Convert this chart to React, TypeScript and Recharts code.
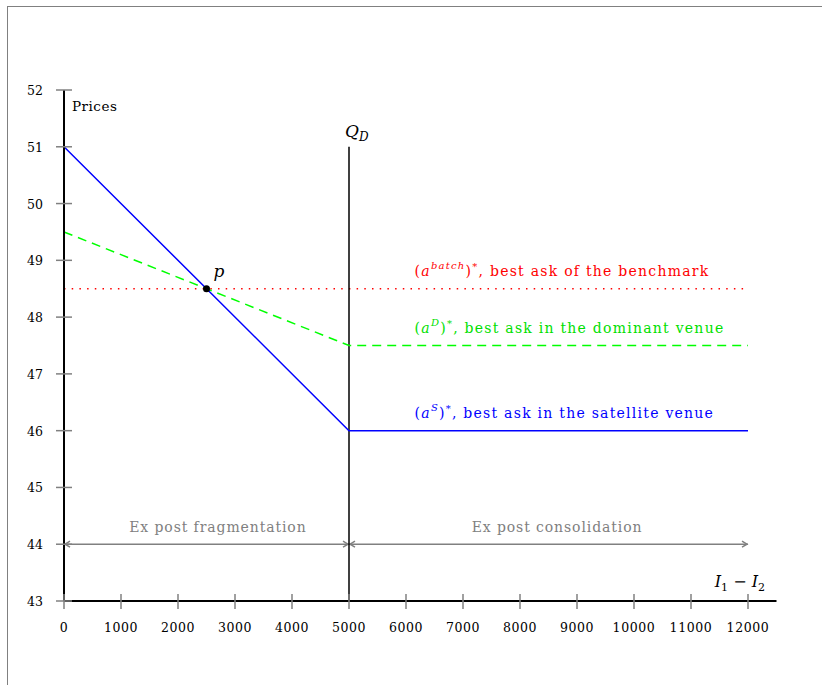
import { LineChart, Line, XAxis, YAxis, ReferenceLine, ReferenceDot } from "recharts"

// inventory imbalance I1 - I2 and best asks
const inventoryGap = [0, 5000, 12000]
const satelliteAsk = [51, 46, 46]
const dominantAsk = [49.5, 47.5, 47.5]
const benchmarkAsk = 48.5
const thresholdQD = 5000
const crossing = { x: 2500, y: 48.5 }
const xTicks = [0, 1000, 2000, 3000, 4000, 5000, 6000, 7000, 8000, 9000, 10000, 11000, 12000]
const yTicks = [43, 44, 45, 46, 47, 48, 49, 50, 51, 52]

const data = inventoryGap.map((x, i) => ({ x, satellite: satelliteAsk[i], dominant: dominantAsk[i] }))

const SERIF = "'DejaVu Serif', serif"
const GRAY = "#808080"

function YTick(props: any) {
    const { x, y, payload } = props
    const ax = x + 21
    return (
        <g>
            <line x1={ax - 8} x2={ax + 8} y1={y} y2={y} stroke={GRAY} strokeWidth={1.5} />
            <text x={x} y={y + 5} textAnchor="end" style={{ fontFamily: SERIF, fontSize: 12.5 }} fill="#000">
                {payload.value}
            </text>
        </g>
    )
}

function XTick(props: any) {
    const { x, y, payload } = props
    const ay = y - 31
    return (
        <g>
            <line x1={x} x2={x} y1={ay - 7} y2={ay + 8} stroke={GRAY} strokeWidth={1.5} />
            <text x={x} y={y} textAnchor="middle" style={{ fontFamily: SERIF, fontSize: 12.5, letterSpacing: 0.6 }} fill="#000">
                {payload.value}
            </text>
        </g>
    )
}

function Arrow(props: any) {
    const { x1, y1, x2, y2 } = props
    return (
        <g stroke={GRAY} strokeWidth={1.5} fill="none">
            <line x1={x1} y1={y1} x2={x2} y2={y2} />
            <path d={`M${x1 + 6},${y1 - 3} L${x1 + 1},${y1} L${x1 + 6},${y1 + 3}`} />
            <path d={`M${x2 - 6},${y2 - 3} L${x2 - 1},${y2} L${x2 - 6},${y2 + 3}`} />
        </g>
    )
}

const textStyle = { fontFamily: SERIF, fontSize: 14, letterSpacing: 0.9 }

function AskLabel({ cx, cy, color, sup, rest }: any) {
    return (
        <text x={cx} y={cy - 13} fill={color} style={{ ...textStyle, letterSpacing: 1.25 }}>
            (<tspan fontStyle="italic">a</tspan>
            <tspan dy={-7} fontSize={10} fontStyle="italic">{sup}</tspan>
            <tspan dy={7}>)</tspan>
            <tspan dy={-6} fontSize={10}>*</tspan>
            <tspan dy={6}>{", best ask " + rest}</tspan>
        </text>
    )
}

export default function App() {
    return (
        <div style={{ position: "absolute", left: 0, top: 0, width: 822, height: 685, background: "#fff", fontFamily: SERIF }}>
            <div style={{ position: "absolute", left: 7, top: 6, right: 0, bottom: 0, borderLeft: `1.5px solid ${GRAY}`, borderTop: `1.5px solid ${GRAY}` }} />
            <div style={{ position: "absolute", left: 0, top: 0 }}>
                <LineChart width={822} height={685} data={data} margin={{ top: 90, right: 45.5, left: 24, bottom: 44 }}>
                    <XAxis dataKey="x" type="number" domain={[0, 12500]} ticks={xTicks} height={40}
                        axisLine={{ stroke: "#000", strokeWidth: 2 }} tickLine={false} tickSize={8} tickMargin={23} tick={<XTick />} />
                    <YAxis type="number" domain={[43, 52]} ticks={yTicks} width={40}
                        axisLine={{ stroke: "#000", strokeWidth: 2 }} tickLine={false} tickSize={8} tickMargin={13} tick={<YTick />} />

                    <ReferenceLine segment={[{ x: 0, y: 44 }, { x: thresholdQD, y: 44 }]} shape={(p: any) => <Arrow {...p} />} />
                    <ReferenceLine segment={[{ x: thresholdQD, y: 44 }, { x: 12000, y: 44 }]} shape={(p: any) => <Arrow {...p} />} />
                    <ReferenceLine segment={[{ x: 0, y: benchmarkAsk }, { x: 12000, y: benchmarkAsk }]} stroke="#ff0000" strokeWidth={1.5} strokeDasharray="1.5 6.2" />
                    <ReferenceLine segment={[{ x: thresholdQD, y: 43 }, { x: thresholdQD, y: 51 }]} stroke="#000" strokeWidth={1.5} />

                    <Line type="linear" dataKey="dominant" stroke="#00ff00" strokeWidth={1.5} strokeDasharray="9 6" dot={false} isAnimationActive={false} />
                    <Line type="linear" dataKey="satellite" stroke="#0000ff" strokeWidth={1.5} dot={false} isAnimationActive={false} />

                    <ReferenceDot x={crossing.x} y={crossing.y} r={3.5} fill="#000" stroke="none" />
                    <ReferenceDot x={crossing.x} y={crossing.y} r={0} shape={(p: any) => (
                        <text x={p.cx + 7} y={p.cy - 12} style={{ fontFamily: SERIF, fontStyle: "italic", fontSize: 17 }}>p</text>
                    )} />
                    <ReferenceDot x={0} y={52} r={0} shape={(p: any) => (
                        <text x={p.cx + 8} y={p.cy + 21} style={{ fontFamily: SERIF, fontSize: 13.5, letterSpacing: 0.5 }}>Prices</text>
                    )} />
                    <ReferenceDot x={thresholdQD} y={51} r={0} shape={(p: any) => (
                        <text x={p.cx - 4} y={p.cy - 10} style={{ fontFamily: SERIF, fontSize: 17 }}>
                            <tspan fontStyle="italic">Q</tspan>
                            <tspan dy={4} fontSize={12} fontStyle="italic">D</tspan>
                        </text>
                    )} />
                    <ReferenceDot x={12000} y={43} r={0} shape={(p: any) => (
                        <text x={p.cx + 17} y={p.cy - 14} textAnchor="end" style={{ fontFamily: SERIF, fontSize: 16 }}>
                            <tspan fontStyle="italic">I</tspan>
                            <tspan dy={4} fontSize={11}>1</tspan>
                            <tspan dy={-4}>{" \u2212 "}</tspan>
                            <tspan fontStyle="italic">I</tspan>
                            <tspan dy={4} fontSize={11}>2</tspan>
                        </text>
                    )} />
                    <ReferenceDot x={6150} y={benchmarkAsk} r={0} shape={(p: any) => <AskLabel cx={p.cx} cy={p.cy} color="#ff0000" sup="batch" rest="of the benchmark" />} />
                    <ReferenceDot x={6150} y={dominantAsk[2]} r={0} shape={(p: any) => <AskLabel cx={p.cx} cy={p.cy} color="#00e000" sup="D" rest="in the dominant venue" />} />
                    <ReferenceDot x={6150} y={satelliteAsk[2]} r={0} shape={(p: any) => <AskLabel cx={p.cx} cy={p.cy} color="#0000ff" sup="S" rest="in the satellite venue" />} />
                    <ReferenceDot x={2700} y={44} r={0} shape={(p: any) => (
                        <text x={p.cx} y={p.cy - 12} textAnchor="middle" fill={GRAY} style={textStyle}>Ex post fragmentation</text>
                    )} />
                    <ReferenceDot x={8650} y={44} r={0} shape={(p: any) => (
                        <text x={p.cx} y={p.cy - 12} textAnchor="middle" fill={GRAY} style={textStyle}>Ex post consolidation</text>
                    )} />
                </LineChart>
            </div>
        </div>
    )
}
